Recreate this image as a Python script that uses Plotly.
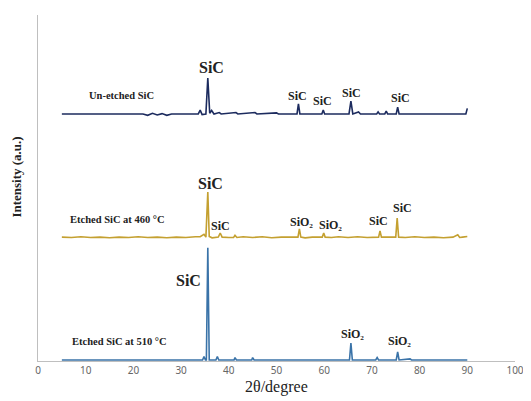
import plotly.graph_objects as go

# ---- data (displayed, already offset) ----
unetched_x = [5, 22, 23, 24, 25, 26, 27, 28, 33.6, 34.0, 34.4, 35.2, 35.6, 36.0, 36.4, 36.9, 38.0, 38.4,
              41.5, 41.9, 45.5, 45.9, 50.0, 50.4, 54.3, 54.6, 54.9, 59.5, 59.8, 60.1, 65.2, 65.6, 66.0,
              67.2, 67.6, 71.0, 71.3, 71.6, 72.7, 73.0, 73.3, 75.1, 75.4, 75.7, 89.7, 90]
unetched_y = [71.4, 71.4, 71.0, 71.6, 71.1, 71.5, 71.0, 71.4, 71.4, 72.5, 71.2, 71.4, 81.8, 71.6, 72.4, 71.4, 71.8, 71.4,
              71.8, 71.4, 71.8, 71.4, 71.7, 71.4, 71.4, 74.3, 71.4, 71.4, 72.5, 71.4, 71.4, 75.1, 71.4,
              72.0, 71.4, 71.4, 72.0, 71.4, 71.4, 72.2, 71.4, 71.4, 73.4, 71.4, 71.4, 73.0]

e460_x = [5, 7, 9, 11, 13, 15, 17, 19, 21, 23, 25, 27, 29, 31, 33, 34, 34.8, 35.2, 35.6, 35.9, 36.5, 37.8, 38.2, 38.6,
          40, 41.0, 41.3, 41.7, 43, 45, 47, 49, 51, 53, 54.5, 54.8, 55.1, 56, 57.5, 59.6, 59.9, 60.2, 61.5, 63, 65,
          67, 69, 71.4, 71.7, 72.0, 73.5, 75.0, 75.3, 75.6, 77, 79, 81, 83, 85, 87, 88.0, 88.4, 89, 90]
e460_y = [35.8, 35.7, 35.9, 35.7, 35.8, 35.6, 35.8, 35.7, 35.9, 35.7, 35.8, 35.6, 35.8, 35.7, 35.9, 35.9, 36.6, 35.8, 48.8, 36.0, 35.6, 35.8, 37.0, 35.8,
          35.7, 35.7, 36.3, 35.7, 35.9, 35.7, 35.9, 35.6, 35.8, 35.7, 35.8, 38.2, 35.8, 35.6, 35.8, 35.8, 37.0, 35.8, 35.7, 35.9, 35.7,
          35.9, 35.7, 35.8, 37.6, 35.8, 35.7, 35.8, 41.3, 35.8, 35.7, 35.9, 35.7, 35.8, 35.6, 35.8, 36.5, 35.7, 35.8, 36.0]

e510_x = [5, 34.5, 34.8, 35.1, 35.3, 35.6, 35.9, 37.3, 37.6, 37.9, 41.1, 41.3, 41.6, 44.8, 45.0, 45.3,
          65.3, 65.6, 65.9, 70.8, 71.1, 71.4, 75.1, 75.4, 75.7, 78.0, 78.3, 90]
e510_y = [0.3, 0.3, 1.3, 0.3, 0.3, 32.7, 0.3, 0.3, 1.3, 0.3, 0.3, 1.0, 0.3, 0.3, 1.0, 0.3,
          0.3, 5.2, 0.3, 0.3, 1.0, 0.3, 0.3, 2.6, 0.3, 0.6, 0.3, 0.3]

# labels: (text, x, y) and (text, x, y, size)
series_labels = [("Un-etched SiC", 17.5, 76.6), ("Etched SiC at 460 °C", 16.6, 41.0), ("Etched SiC at 510 °C", 17.0, 5.5)]
peak_labels = [
    ("SiC", 36.4, 84.7, 16), ("SiC", 54.5, 76.6, 12), ("SiC", 59.7, 75.1, 12), ("SiC", 65.7, 77.5, 12), ("SiC", 75.9, 76.0, 12),
    ("SiC", 36.2, 51.2, 16), ("SiC", 38.3, 39.0, 12), ("SiO₂", 55.3, 40.2, 12), ("SiO₂", 61.3, 39.3, 12),
    ("SiC", 71.3, 40.5, 12), ("SiC", 76.5, 44.2, 12),
    ("SiC", 31.6, 23.4, 16), ("SiO₂", 65.9, 7.8, 12), ("SiO₂", 75.7, 5.8, 12),
]
x_ticks = [0, 10, 20, 30, 40, 50, 60, 70, 80, 90, 100]

SERIF = "Liberation Serif, Times New Roman, serif"

fig = go.Figure()
fig.add_trace(go.Scatter(x=unetched_x, y=unetched_y, mode="lines", line=dict(color="#1c2b5e", width=1.6)))
fig.add_trace(go.Scatter(x=e460_x, y=e460_y, mode="lines", line=dict(color="#c4a030", width=1.6)))
fig.add_trace(go.Scatter(x=e510_x, y=e510_y, mode="lines", line=dict(color="#3a73a8", width=1.6)))

for t, x, y in series_labels:
    fig.add_annotation(x=x, y=y, text="<b>%s</b>" % t, showarrow=False,
                       font=dict(family=SERIF, size=10.5, color="#222222"))
for t, x, y, s in peak_labels:
    fig.add_annotation(x=x, y=y, text="<b>%s</b>" % t, showarrow=False,
                       font=dict(family=SERIF, size=s, color="#222222"))

fig.add_annotation(xref="paper", yref="paper", x=0, y=0.53, xshift=-21, xanchor="center", text="<b>Intensity (a.u.)</b>",
                   textangle=-90, showarrow=False, font=dict(family=SERIF, size=13, color="#222222"))
fig.add_annotation(xref="paper", yref="paper", x=0.5, y=0, yshift=-26, yanchor="middle", text="2θ/degree",
                   showarrow=False, font=dict(family=SERIF, size=16, color="#222222"))

fig.update_layout(
    width=523, height=393, margin=dict(l=30, r=12, t=7, b=40),
    paper_bgcolor="white", plot_bgcolor="white", showlegend=False,
    xaxis=dict(range=[0, 100], tickvals=x_ticks, showgrid=False, zeroline=False, showline=True,
               linecolor="#bfbfbf", linewidth=1, ticks="", tickfont=dict(family="Noto Sans", size=10, color="#666666")),
    yaxis=dict(range=[0, 100], showgrid=False, zeroline=False, showline=True, linecolor="#bfbfbf",
               linewidth=1, showticklabels=False, ticks=""),
)
fig.write_html("out.html")
